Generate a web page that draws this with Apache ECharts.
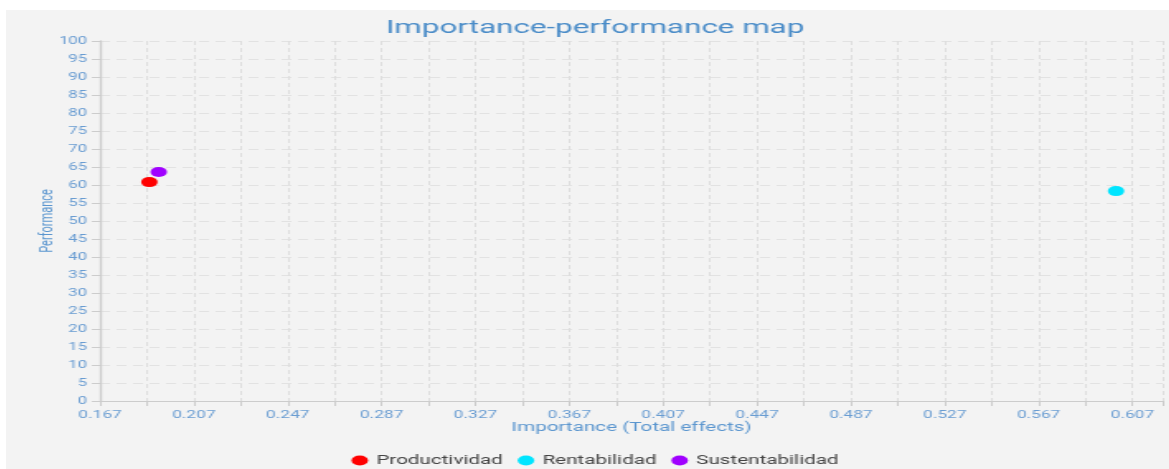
<!DOCTYPE html>
<html>
<head>
<meta charset="utf-8">
<script src="https://cdn.jsdelivr.net/npm/echarts@6/dist/echarts.min.js"></script>
<style>
  html, body { margin: 0; padding: 0; background: #ffffff; overflow: hidden; width: 1169px; height: 469px; }
  #chart {
    position: absolute; left: 6px; top: 10px;
    width: 714px; height: 459px;
    transform: scaleX(1.65); transform-origin: 0 0;
  }
</style>
</head>
<body>
<div id="chart"></div>
<script>
// Constructs and their importance / performance scores
const constructs = ['Productividad', 'Rentabilidad', 'Sustentabilidad'];
const importance = [0.188, 0.600, 0.192];
const performance = [60.8, 58.3, 63.6];
const pointColors = ['#ff0000', '#00e5ff', '#a000ff'];

// Axis settings
const xMin = 0.167, xMax = 0.62, xStep = 0.02;
const yMin = 0, yMax = 100, yStep = 5;

const titleColor = '#4a8cc8';
const tickColor = '#6a9dd2';
const nameColor = '#5b96cf';
const FONT = 'Roboto, "Noto Sans", sans-serif';

const chart = echarts.init(document.getElementById('chart'), null, { renderer: 'canvas' });

chart.setOption({
  backgroundColor: '#f3f3f3',
  animation: false,
  textStyle: { fontFamily: FONT },
  title: {
    text: 'Importance-performance map',
    left: 'center',
    top: 4,
    textStyle: { color: titleColor, fontSize: 19, fontWeight: 'normal', fontFamily: FONT }
  },
  legend: {
    bottom: -3,
    left: 'center',
    icon: 'circle',
    itemWidth: 10,
    itemHeight: 10,
    itemGap: 9,
    textStyle: { color: '#444', fontSize: 12.5, fontFamily: FONT },
    data: constructs
  },
  grid: { left: 57, right: 12.8, top: 31, bottom: 68, containLabel: false },
  xAxis: {
    type: 'value',
    min: xMin, max: xMax, interval: xStep,
    name: 'Importance (Total effects)',
    nameLocation: 'middle',
    nameGap: 20,
    nameMoveOverlap: false,
    nameTextStyle: { color: nameColor, fontSize: 12.5, fontFamily: FONT },
    axisLine: { show: true, lineStyle: { color: '#cccccc', width: 1 } },
    axisTick: { show: true, length: 5, lineStyle: { color: '#cccccc' } },
    axisLabel: {
      color: tickColor, fontSize: 10.5, margin: 9,
      formatter: (v, i) => (i % 2 === 0 && v < xMax - 1e-6) ? v.toFixed(3) : ''
    },
    splitLine: { show: true, lineStyle: { color: '#dedede', type: [4, 3] } }
  },
  yAxis: {
    type: 'value',
    min: yMin, max: yMax, interval: yStep,
    name: 'Performance',
    nameLocation: 'middle',
    nameGap: 26,
    nameMoveOverlap: false,
    nameTextStyle: { color: nameColor, fontSize: 11, fontFamily: FONT },
    axisLine: { show: true, lineStyle: { color: '#cccccc', width: 1.3 } },
    axisTick: { show: true, length: 5, lineStyle: { color: '#cccccc' } },
    axisLabel: { color: tickColor, fontSize: 10, margin: 8 },
    splitLine: { show: true, lineStyle: { color: '#e2e2e2', type: [6, 4] } }
  },
  series: constructs.map((name, i) => ({
    name: name,
    type: 'scatter',
    symbol: 'circle',
    symbolSize: 10,
    itemStyle: { color: pointColors[i], opacity: 1 },
    data: [[importance[i], performance[i]]]
  }))
});
</script>
</body>
</html>
